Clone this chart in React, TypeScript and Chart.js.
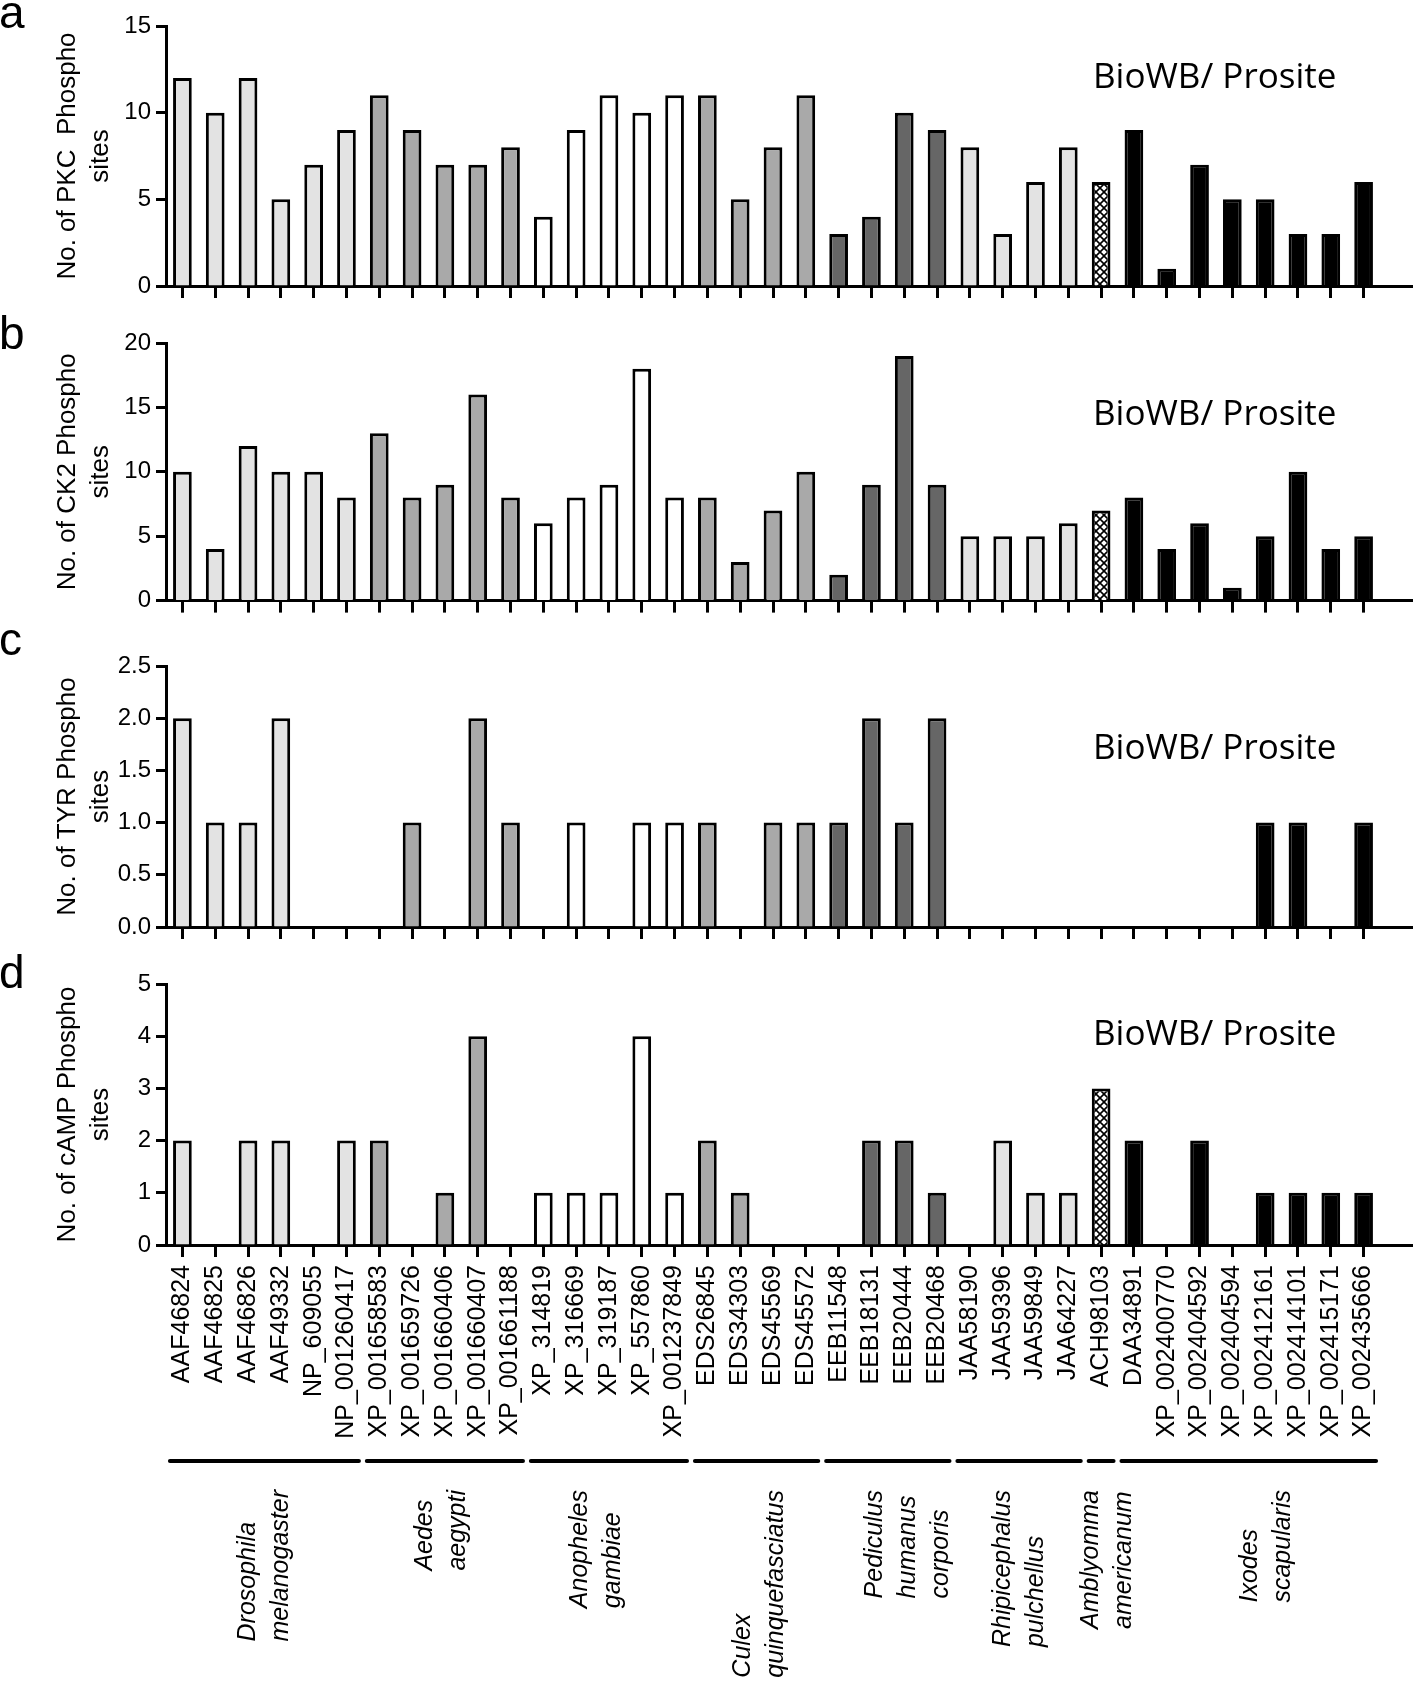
import React, { useEffect, useRef } from "react";
import { Chart, registerables } from "chart.js";

Chart.register(...registerables);

// ---------- data ----------
const accessions = [
  "AAF46824", "AAF46825", "AAF46826", "AAF49332", "NP_609055", "NP_001260417",
  "XP_001658583", "XP_001659726", "XP_001660406", "XP_001660407", "XP_001661188",
  "XP_314819", "XP_316669", "XP_319187", "XP_557860", "XP_001237849",
  "EDS26845", "EDS34303", "EDS45569", "EDS45572",
  "EEB11548", "EEB18131", "EEB20444", "EEB20468",
  "JAA58190", "JAA59396", "JAA59849", "JAA64227",
  "ACH98103",
  "DAA34891", "XP_002400770", "XP_002404592", "XP_002404594", "XP_002412161",
  "XP_002414101", "XP_002415171", "XP_002435666",
];

const speciesNames = [
  ["Drosophila", "melanogaster"],
  ["Aedes", "aegypti"],
  ["Anopheles", "gambiae"],
  ["Culex", "quinquefasciatus"],
  ["Pediculus", "humanus", "corporis"],
  ["Rhipicephalus", "pulchellus"],
  ["Amblyomma", "americanum"],
  ["Ixodes", "scapularis"],
];
const speciesCounts = [6, 5, 5, 4, 4, 4, 1, 8];
const speciesFills = ["#e3e3e3", "#a9a9a9", "#ffffff", "#a9a9a9", "#666666", "#e3e3e3", "hatch", "#000000"];

const pkcSites = [12, 10, 12, 5, 7, 9, 11, 9, 7, 7, 8, 4, 9, 11, 10, 11, 11, 5, 8, 11, 3, 4, 10, 9, 8, 3, 6, 8, 6, 9, 1, 7, 5, 5, 3, 3, 6];
const ck2Sites = [10, 4, 12, 10, 10, 8, 13, 8, 9, 16, 8, 6, 8, 9, 18, 8, 8, 3, 7, 10, 2, 9, 19, 9, 5, 5, 5, 6, 7, 8, 4, 6, 1, 5, 10, 4, 5];
const tyrSites = [2, 1, 1, 2, 0, 0, 0, 1, 0, 2, 1, 0, 1, 0, 1, 1, 1, 0, 1, 1, 1, 2, 1, 2, 0, 0, 0, 0, 0, 0, 0, 0, 0, 1, 1, 0, 1];
const campSites = [2, 0, 2, 2, 0, 2, 2, 0, 1, 4, 0, 1, 1, 1, 4, 1, 2, 1, 0, 0, 0, 2, 2, 1, 0, 2, 1, 1, 3, 2, 0, 2, 0, 1, 1, 1, 1];

const noteText = "BioWB/ Prosite";

// ---------- layout / style ----------
const W = 1416;
const SANS = "'Liberation Sans', Arial, Helvetica, sans-serif";
const NOTE_FONT = "'Open Sans', 'Noto Sans', sans-serif";
const AREA_LEFT = 166;
const AREA_RIGHT = 1380;
const AXIS_END_X = 1413;
// horizontal nudge (px) of each species label block relative to its group centre
const speciesLabelShift = [0, -3, -12, 3, 20, 0, 6, 18];

type Panel = {
  letter: string;
  axisTitle: string[];
  values: number[];
  max: number;
  step: number;
  decimals: number;
  top: number;
  height: number;
  areaTop: number;
  areaBottom: number;
  letterBaseline: number;
  noteBaseline: number;
  showLabels: boolean;
};

const PANELS: Panel[] = [
  { letter: "a", axisTitle: ["No. of PKC  Phospho", "sites"], values: pkcSites, max: 15, step: 5, decimals: 0,
    top: 0, height: 315, areaTop: 26, areaBottom: 286, letterBaseline: 28, noteBaseline: 88, showLabels: false },
  { letter: "b", axisTitle: ["No. of CK2 Phospho", "sites"], values: ck2Sites, max: 20, step: 5, decimals: 0,
    top: 315, height: 305, areaTop: 28, areaBottom: 288, letterBaseline: 34, noteBaseline: 110, showLabels: false },
  { letter: "c", axisTitle: ["No. of TYR Phospho", "sites"], values: tyrSites, max: 2.5, step: 0.5, decimals: 1,
    top: 620, height: 330, areaTop: 46, areaBottom: 307, letterBaseline: 35, noteBaseline: 139, showLabels: false },
  { letter: "d", axisTitle: ["No. of cAMP Phospho", "sites"], values: campSites, max: 5, step: 1, decimals: 0,
    top: 950, height: 745, areaTop: 34, areaBottom: 295, letterBaseline: 38, noteBaseline: 95, showLabels: true },
];

const GROUP_LINE_Y = 511; // within panel d canvas
const SPECIES_TOP = 540;  // within panel d canvas

function makeHatch(ctx: CanvasRenderingContext2D): CanvasPattern | string {
  const s = 8;
  const c = document.createElement("canvas");
  c.width = s;
  c.height = s;
  const g = c.getContext("2d");
  if (!g) return "#fff";
  g.fillStyle = "#fff";
  g.fillRect(0, 0, s, s);
  g.strokeStyle = "#000";
  g.lineWidth = 1.6;
  g.beginPath();
  g.moveTo(-1, -1); g.lineTo(s + 1, s + 1);
  g.moveTo(s + 1, -1); g.lineTo(-1, s + 1);
  g.stroke();
  return ctx.createPattern(c, "repeat") || "#fff";
}

function barFills(ctx: CanvasRenderingContext2D) {
  const hatch = makeHatch(ctx);
  const fills: (string | CanvasPattern)[] = [];
  speciesCounts.forEach((n, g) => {
    for (let i = 0; i < n; i++) fills.push(speciesFills[g] === "hatch" ? hatch : speciesFills[g]);
  });
  return fills;
}

function PanelChart({ panel }: { panel: Panel }) {
  const ref = useRef<HTMLCanvasElement>(null);

  useEffect(() => {
    const canvas = ref.current;
    if (!canvas) return;
    const ctx0 = canvas.getContext("2d")!;
    const fills = barFills(ctx0);
    const p = panel;

    const decor = {
      id: "decor",
      afterDraw(chart: any) {
        const ctx: CanvasRenderingContext2D = chart.ctx;
        const area = chart.chartArea;
        const xs = chart.scales.x;
        ctx.save();
        // extend the x axis line to the right
        const yb = Math.round(xs.top - 1.5) + 1.5;
        ctx.strokeStyle = "#000";
        ctx.lineWidth = 3;
        ctx.beginPath();
        ctx.moveTo(area.right - 2, yb);
        ctx.lineTo(AXIS_END_X, yb);
        ctx.stroke();

        // panel letter
        ctx.fillStyle = "#000";
        ctx.textAlign = "left";
        ctx.textBaseline = "alphabetic";
        ctx.font = `46px ${SANS}`;
        ctx.fillText(p.letter, -1, p.letterBaseline);

        // note
        ctx.font = `35px ${NOTE_FONT}`;
        ctx.fillText(noteText, 1093, p.noteBaseline);

        if (p.showLabels) {
          let start = 0;
          speciesCounts.forEach((n, g) => {
            const first = start;
            const last = start + n - 1;
            start += n;
            const step = xs.getPixelForTick(1) - xs.getPixelForTick(0);
            const pf = xs.getPixelForTick(first);
            const pl = xs.getPixelForTick(last);
            ctx.strokeStyle = "#000";
            ctx.lineWidth = 4;
            ctx.lineCap = "round";
            ctx.beginPath();
            ctx.moveTo(pf - 0.38 * step, GROUP_LINE_Y);
            ctx.lineTo(pl + 0.38 * step, GROUP_LINE_Y);
            ctx.stroke();

            const names = speciesNames[g];
            ctx.font = `italic 25px ${SANS}`;
            const maxW = Math.max(...names.map((t) => ctx.measureText(t).width));
            const cx = (pf + pl) / 2 + speciesLabelShift[g];
            names.forEach((t, k) => {
              const lx = cx + (k - (names.length - 1) / 2) * 33;
              ctx.save();
              ctx.translate(lx, SPECIES_TOP + maxW);
              ctx.rotate(-Math.PI / 2);
              ctx.textAlign = "left";
              ctx.textBaseline = "middle";
              ctx.fillText(t, 0, 0);
              ctx.restore();
            });
          });
        }
        ctx.restore();
      },
    };

    const chart = new Chart(canvas, {
      type: "bar",
      data: {
        labels: accessions,
        datasets: [
          {
            data: p.values,
            backgroundColor: fills as any,
            borderColor: "#000",
            borderWidth: 3,
            borderSkipped: "start",
            categoryPercentage: 1,
            barPercentage: 0.57,
          },
        ],
      },
      options: {
        responsive: false,
        animation: false,
        devicePixelRatio: 1,
        layout: { padding: { left: 0, right: W - AREA_RIGHT, top: p.areaTop, bottom: 0 } },
        plugins: { legend: { display: false }, tooltip: { enabled: false } },
        scales: {
          x: {
            type: "category",
            offset: true,
            grid: {
              display: true,
              drawOnChartArea: false,
              offset: false,
              drawTicks: true,
              tickLength: 12,
              tickWidth: 3,
              tickColor: "#000",
              color: "#000",
            },
            border: { display: true, width: 3, color: "#000" },
            ticks: {
              display: p.showLabels,
              autoSkip: false,
              minRotation: 90,
              maxRotation: 90,
              padding: 8,
              color: "#000",
              font: { size: 25, family: SANS },
            },
            afterFit: (s: any) => {
              s.height = p.height - p.areaBottom;
            },
          },
          y: {
            min: 0,
            max: p.max,
            grid: {
              display: true,
              drawOnChartArea: false,
              drawTicks: true,
              tickLength: 10,
              tickWidth: 3,
              tickColor: "#000",
              color: "#000",
            },
            border: { display: true, width: 3, color: "#000" },
            ticks: {
              stepSize: p.step,
              color: "#000",
              padding: 5,
              font: { size: 24, family: SANS },
              callback: (v: any) => Number(v).toFixed(p.decimals),
            },
            title: {
              display: true,
              text: p.axisTitle,
              color: "#000",
              font: { size: 26, family: SANS, lineHeight: 1.27 },
              padding: { top: 51.5, bottom: 0 },
            },
            afterFit: (s: any) => {
              s.width = AREA_LEFT;
            },
          },
        },
      },
      plugins: [decor],
    } as any);

    return () => chart.destroy();
  }, [panel]);

  return (
    <canvas
      ref={ref}
      width={W}
      height={panel.height}
      style={{ position: "absolute", left: 0, top: panel.top, width: W, height: panel.height, display: "block" }}
    />
  );
}

export default function App() {
  return (
    <div style={{ position: "absolute", left: 0, top: 0, width: W, height: 1695, background: "#fff", overflow: "hidden" }}>
      {PANELS.map((p) => (
        <PanelChart key={p.letter} panel={p} />
      ))}
    </div>
  );
}
